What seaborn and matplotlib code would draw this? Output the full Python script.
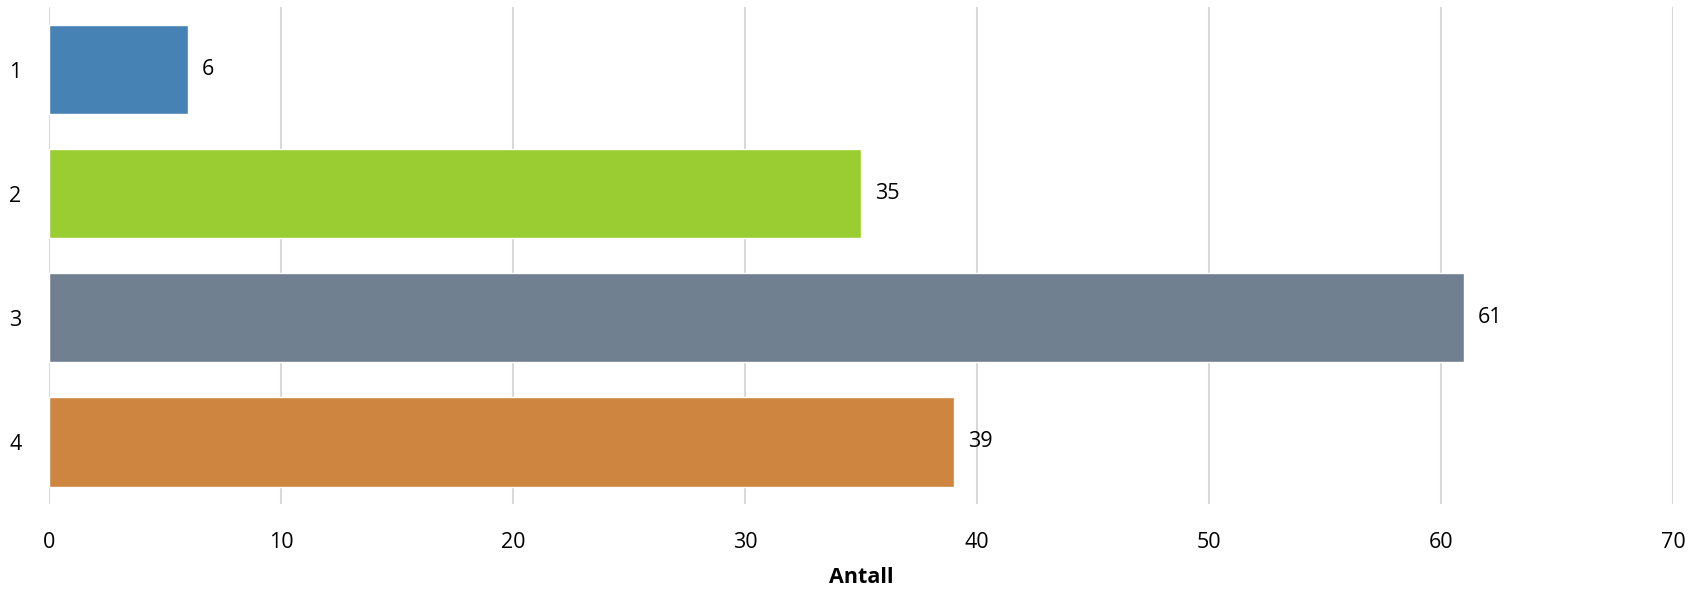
import matplotlib
matplotlib.use("Agg")
import matplotlib.pyplot as plt
import seaborn as sns
import pandas as pd

# Data
categories = ["1", "2", "3", "4"]
values = [6, 35, 61, 39]
colors = ["#4682B4", "#9ACD32", "#708090", "#CD853F"]
x_ticks = [0, 10, 20, 30, 40, 50, 60, 70]

df = pd.DataFrame({"kategori": categories, "antall": values})

sns.set_style("white")
plt.rcParams["font.family"] = ["Open Sans", "DejaVu Sans"]
plt.rcParams["text.color"] = "black"
plt.rcParams["xtick.color"] = "black"
plt.rcParams["ytick.color"] = "black"
plt.rcParams["axes.labelcolor"] = "black"

fig = plt.figure(figsize=(17.03, 5.94), dpi=100)
ax = fig.add_axes([0.0288, 0.1515, 0.9536, 0.8359])

sns.barplot(
    data=df,
    x="antall",
    y="kategori",
    hue="kategori",
    palette=colors,
    orient="h",
    width=0.72,
    legend=False,
    saturation=1,
    ax=ax,
)

ax.set_xlim(0, 70)
ax.set_ylim(3.5, -0.5)
ax.set_xticks(x_ticks)
ax.xaxis.grid(True, color="#D9D9D9", linewidth=1.5)
ax.yaxis.grid(False)
ax.set_axisbelow(True)
for s in ax.spines.values():
    s.set_visible(False)

fs = 15.5
ax.tick_params(axis="x", length=0, pad=20, labelsize=fs)
ax.tick_params(axis="y", length=0, pad=20, labelsize=fs)
ax.set_ylabel("")
ax.set_xlabel("Antall", fontsize=fs, fontweight="bold", labelpad=10)

for c in ax.containers:
    ax.bar_label(c, padding=10, fontsize=fs)

plt.savefig("out.png", dpi=100)
